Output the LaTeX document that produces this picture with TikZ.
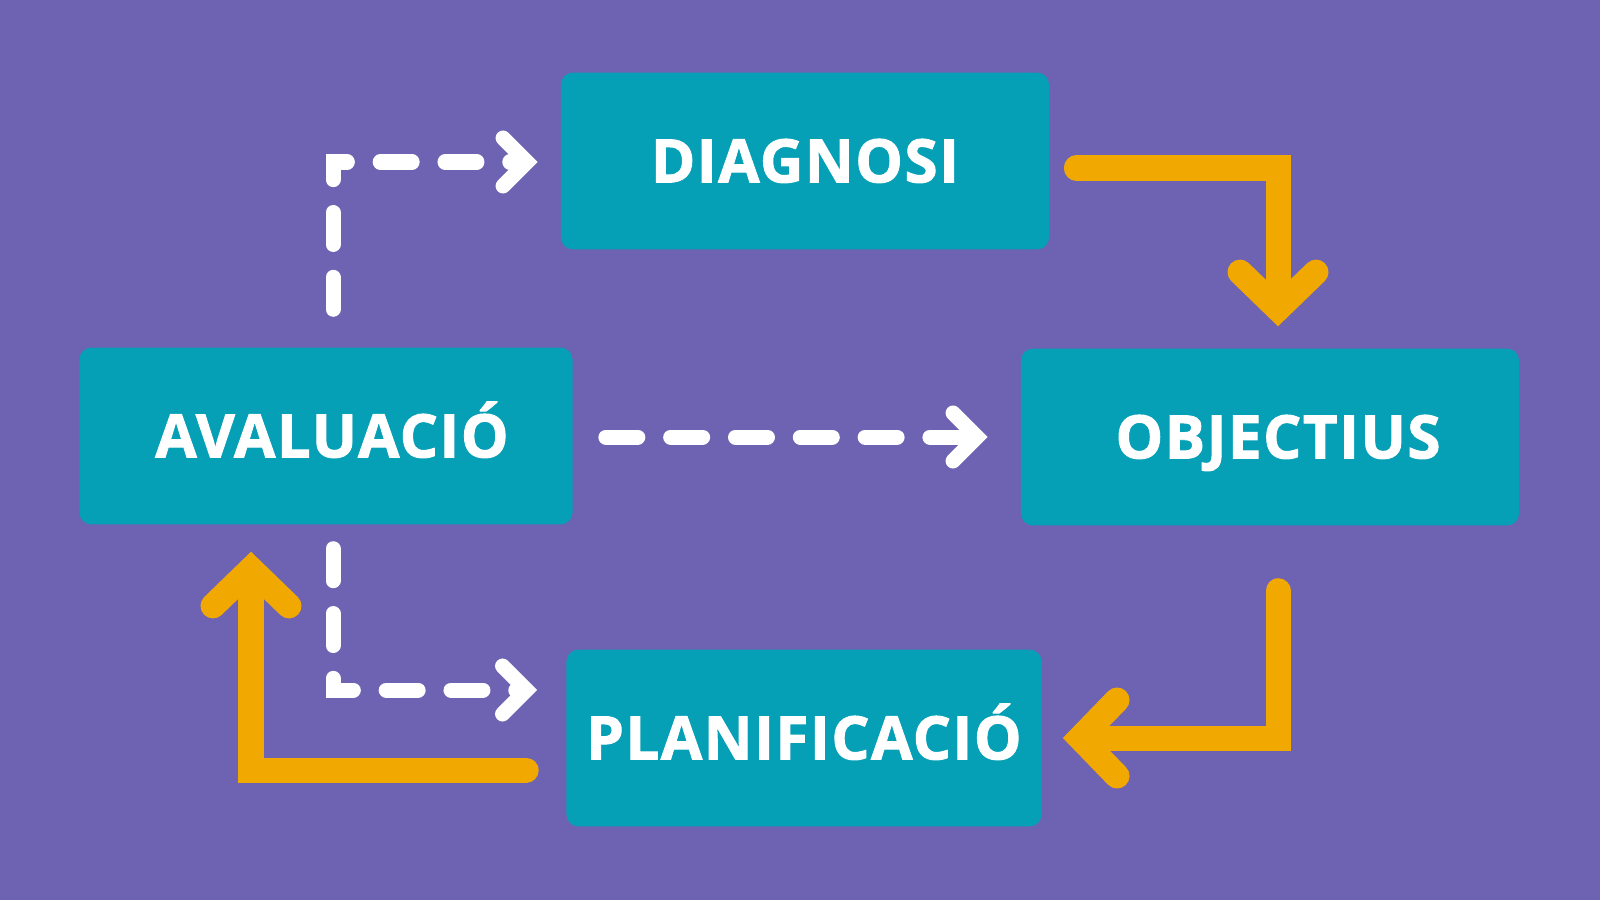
\documentclass[tikz,border=0pt]{standalone}
\usepackage{fontspec}
\setmainfont{Open Sans}[BoldFeatures={FakeBold=1.6, LetterSpace=2.5}]
\usetikzlibrary{arrows.meta,calc}
\definecolor{BgViolet}{HTML}{6E62B2}
\definecolor{BoxTeal}{HTML}{05A0B6}
\definecolor{FlowAmber}{HTML}{F1A800}
\tikzset{
  % Stage box: teal, rounded, white bold caption
  stage/.style={
    rectangle, rounded corners=0.3cm,
    fill=BoxTeal, draw=none,
    minimum height=4.42cm, inner sep=0pt,
    text height=1.07cm, text depth=0pt,
    text=white, align=center,
    font=\fontsize{42.7pt}{50pt}\selectfont\bfseries
  },
  % Main cycle arrow (thick, amber)
  flow/.style={
    line width=0.625cm, color=FlowAmber,
    line cap=round, line join=miter,
    -{Straight Barb[length=0.92cm, width=1.9cm, line cap=round, line join=miter]}
  },
  % Feedback arrow (dashed, white)
  fback/.style={
    line width=0.375cm, color=white,
    line cap=round, line join=miter,
    dash pattern=on 0.8cm off 0.82cm,
    -{Straight Barb[length=0.6cm, width=1.2cm, line cap=round, line join=miter]}
  }
}
\begin{document}
\begin{tikzpicture}[x=0.025cm, y=-0.025cm]
  % Canvas
  \fill[BgViolet] (0,0) rectangle (1600,900);

  % Four stages of the cycle
  \node[stage, minimum width=12.2cm]   (diag) at (805,161)   {DIAGNOSI};
  \node[stage, minimum width=12.45cm]  (obj)  at (1270,437)  {\hspace{0.4cm}OBJECTIUS};
  \node[stage, minimum width=11.875cm] (plan) at (804,738)   {PLANIFICACIÓ};
  \node[stage, minimum width=12.325cm] (aval) at (326,436)   {\hspace{0.3cm}AVALUACIÓ};

  % Cycle arrows
  \draw[flow] ($(diag.east)+(27,7)$)   -| ($(obj.north)+(8,-22)$);
  \draw[flow] ($(obj.south)+(8,65)$)   |- ($(plan.east)+(21,0)$);
  \draw[flow] ($(plan.west)+(-40,32)$) -| ($(aval.south)+(-75,27)$);

  % Feedback arrows from the evaluation
  \draw[fback] ($(aval.north)+(7,-38)$) |- ($(diag.west)+(-23,1)$);
  \draw[fback] ($(aval.east)+(33,1)$)   -- ($(obj.west)+(-33,0)$);
  \draw[fback] ($(aval.south)+(7,24)$)  |- ($(plan.west)+(-29,-48)$);
\end{tikzpicture}
\end{document}
